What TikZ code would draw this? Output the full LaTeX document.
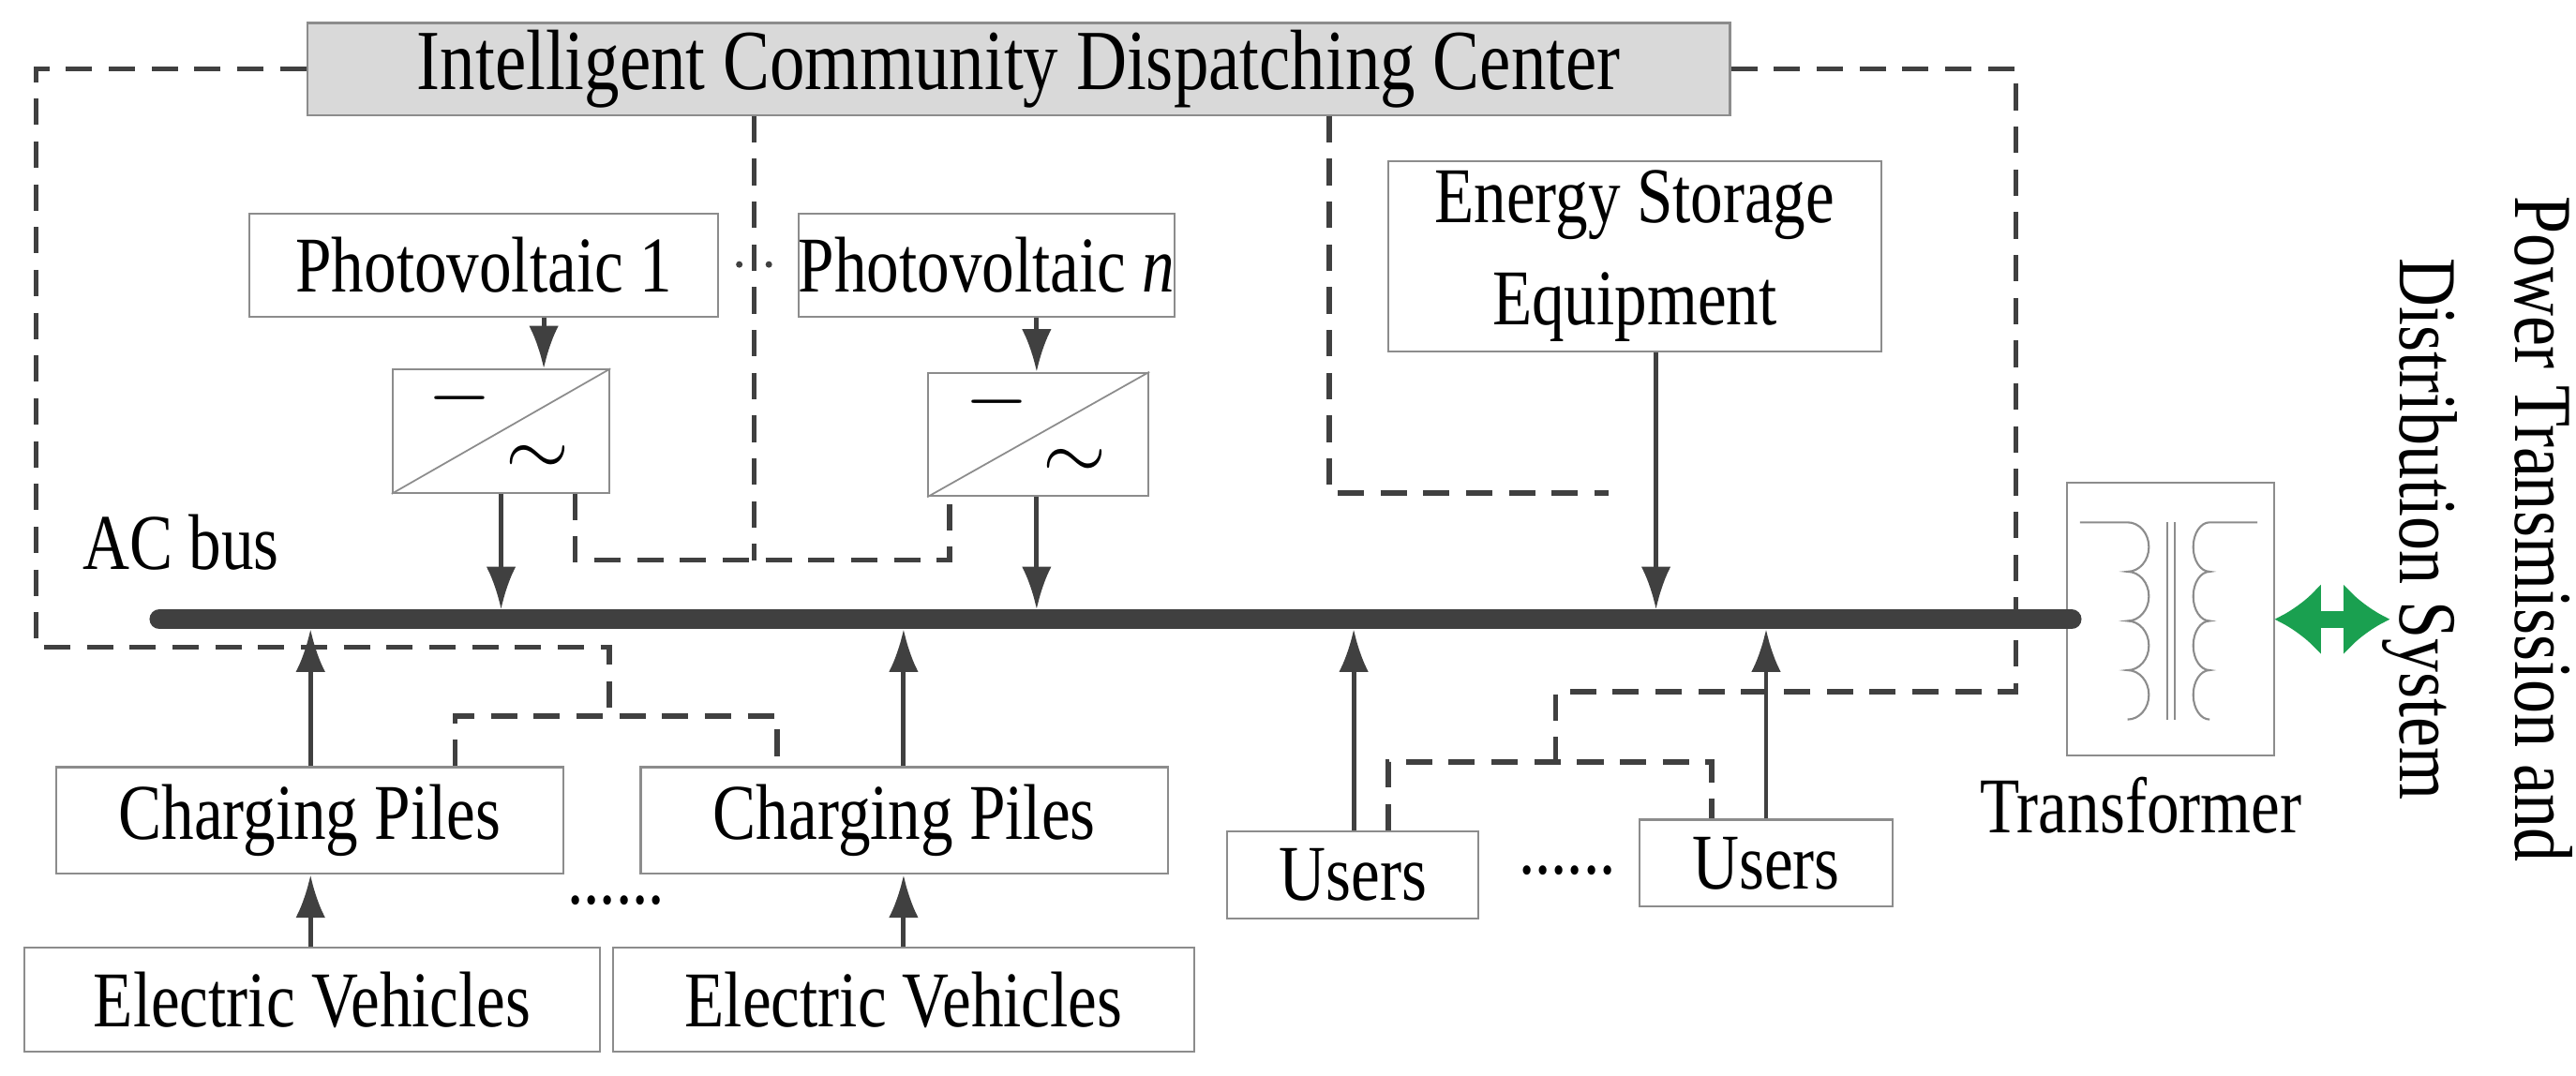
\documentclass[tikz,border=0pt]{standalone}
\usepackage{fontspec}
\setmainfont{Liberation Serif}[FakeStretch=0.82]
\usetikzlibrary{arrows.meta,calc}
\definecolor{dk}{HTML}{404040}
\definecolor{bx}{HTML}{8C8C8C}
\definecolor{gr}{HTML}{1AA050}
\def\u{0.017526cm}
\tikzset{
  box/.style={draw=bx,line width=0.6pt,fill=white,inner sep=0pt,font=\fontsize{24}{26}\selectfont,align=center},
  arr/.style={draw=dk,line width=1.4pt,-{Latex[length=13pt,width=9pt]}},
  dsh/.style={draw=dk,line width=1.6pt,dash pattern=on 8pt off 5pt},
  lbl/.style={inner sep=0pt,font=\fontsize{24}{26}\selectfont}
}
\begin{document}
\begin{tikzpicture}[x=\u,y=-\u]
\useasboundingbox (0,0) rectangle (1568,655);
% nodes
\node[box,fill=black!15,minimum width=866*\u,minimum height=56*\u,font=\fontsize{26}{28}\selectfont] (dc) at (620,42) {Intelligent Community Dispatching Center};
\node[box,minimum width=285*\u,minimum height=63*\u] (pv1) at (294.5,161.5) {Photovoltaic 1};
\node[box,minimum width=219*\u,minimum height=63*\u] (pvn) at (600.5,161.5) {Photovoltaic \textit{n}};
\node[box,minimum width=132*\u,minimum height=75*\u] (cv1) at (305,262.5) {};
\node[box,minimum width=134*\u,minimum height=75*\u] (cv2) at (632,264.5) {};
\node[box,minimum width=300*\u,minimum height=116*\u,font=\fontsize{24}{31}\selectfont] (es) at (995,156) {Energy Storage\\Equipment};
\node[box,minimum width=309*\u,minimum height=65*\u] (cp1) at (188.5,499.5) {Charging Piles};
\node[box,minimum width=321*\u,minimum height=65*\u] (cp2) at (550.5,499.5) {Charging Piles};
\node[box,minimum width=350*\u,minimum height=63*\u] (ev1) at (190,608.5) {Electric Vehicles};
\node[box,minimum width=354*\u,minimum height=63*\u] (ev2) at (550,608.5) {Electric Vehicles};
\node[box,minimum width=153*\u,minimum height=53*\u] (u1) at (823.5,532.5) {Users};
\node[box,minimum width=154*\u,minimum height=53*\u] (u2) at (1075,525.5) {Users};
\node[box,minimum width=126*\u,minimum height=166*\u] (tr) at (1321,377) {};
\node[lbl,anchor=west] (ac) at (50,330) {AC bus};
\node[lbl] (trl) at (1303,490) {Transformer};
\node[lbl] (d1) at (375,548) {......};
\node[lbl] (d2) at (954,530) {......};
\node[lbl,rotate=-90,align=center,font=\fontsize{25}{35}\selectfont] (pts) at (1508,322) {Power Transmission and\\Distribution System};
% converter symbols
\draw[bx,line width=0.5pt] (cv1.south west) -- (cv1.north east);
\draw[bx,line width=0.5pt] (cv2.south west) -- (cv2.north east);
\node[lbl] at ($(cv1.center)+(-25,-20)$) {$-$};
\node[lbl] at ($(cv1.center)+(22,18)$) {$\sim$};
\node[lbl] at ($(cv2.center)+(-25,-20)$) {$-$};
\node[lbl] at ($(cv2.center)+(22,18)$) {$\sim$};
% transformer symbol
\begin{scope}[draw=bx,line width=0.6pt]
\draw (1266,318) -- (1295,318) \foreach \k in {0,1,2,3} {arc[start angle=-90,end angle=90,x radius=13,y radius=15]};
\draw (1374,318) -- (1345,318) \foreach \k in {0,1,2,3} {arc[start angle=-90,end angle=-270,x radius=10,y radius=15]};
\draw (1319,318) -- (1319,438);
\draw (1324,318) -- (1324,438);
\end{scope}
% bus
\coordinate (bl) at (97,377);
\coordinate (br) at (1261,377);
\draw[dk,line width=6pt,line cap=round] (bl) -- (br);
% coordinates for vertical connectors
\coordinate (xa) at (331,0); \coordinate (xb) at (631,0);
\coordinate (xc) at (305,371); \coordinate (xd) at (631,371);
\coordinate (xe) at (1008,371);
\coordinate (xf) at (189,383); \coordinate (xg) at (550,383);
\coordinate (xh) at (824,383); \coordinate (xi) at (1075,383);
% arrows
\draw[arr] (pv1.south -| xa) -- (cv1.north -| xa);
\draw[arr] (pvn.south -| xb) -- (cv2.north -| xb);
\draw[arr] (cv1.south -| xc) -- (xc);
\draw[arr] (cv2.south -| xd) -- (xd);
\draw[arr] (es.south -| xe) -- (xe);
\draw[arr] (cp1.north -| xf) -- (xf);
\draw[arr] (cp2.north -| xg) -- (xg);
\draw[arr] (u1.north -| xh) -- (xh);
\draw[arr] (u2.north -| xi) -- (xi);
\draw[arr] (ev1.north -| xf) -- (cp1.south -| xf);
\draw[arr] (ev2.north -| xg) -- (cp2.south -| xg);
\draw[gr,line width=5pt,{Latex[length=14pt,width=22pt]}-{Latex[length=14pt,width=22pt]}] (tr.east) -- ++(70,0) coordinate (pe);
% dashed control lines
\draw[dsh] (dc.west) -- (22,42) -- (22,394) -- (371,394) -- (371,436);
\draw[dsh] (cp1.north -| 277,0) -- (277,436) -- (473,436) -- (cp2.north -| 473,0);
\draw[dsh] (dc.south -| 459,0) -- (459,341);
\draw[dsh] (cv1.south -| 350,0) -- (350,341) -- (578,341) -- (cv2.south -| 578,0);
\draw[dsh] (dc.south -| 809,0) -- (809,300) -- (979,300);
\draw[dsh] (dc.east) -- (1227,42) -- (1227,421) -- (947,421) -- (947,464);
\draw[dsh] (u1.north -| 845,0) -- (845,464) -- (1042,464) -- (u2.north -| 1042,0);
% dots between photovoltaics
\fill[dk] (450,161) circle (2) (468,161) circle (2);
\end{tikzpicture}
\end{document}
